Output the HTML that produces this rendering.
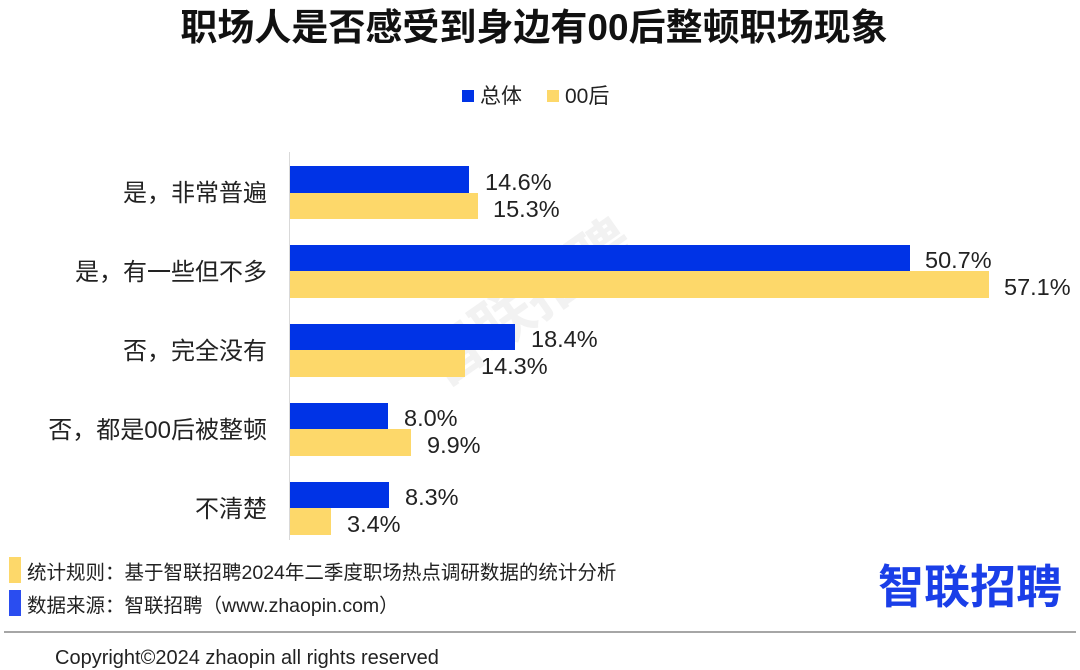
<!DOCTYPE html>
<html><head><meta charset="utf-8"><style>
body{margin:0;background:#fff;}
svg{display:block;font-family:"Liberation Sans","Noto Sans CJK SC",sans-serif;}
</style></head><body>
<svg width="1080" height="670" viewBox="0 0 1080 670" xmlns="http://www.w3.org/2000/svg">
<text x="534" y="40" text-anchor="middle" font-size="37" font-weight="bold" fill="#111">职场人是否感受到身边有00后整顿职场现象</text>
<rect x="462" y="90" width="12" height="12" fill="#0033e6"/>
<text x="480" y="103" font-size="21" fill="#222">总体</text>
<rect x="547" y="90" width="12" height="12" fill="#fdd86a"/>
<text x="565" y="103" font-size="21" fill="#222">00后</text>
<text x="540" y="320" text-anchor="middle" font-size="60" font-weight="bold" fill="#f2f2f2" transform="rotate(-35 540 320)">智联招聘</text>
<line x1="289.5" y1="152" x2="289.5" y2="540" stroke="#d9d9d9" stroke-width="1"/>
<g font-size="23.5" fill="#222">
<rect x="290" y="166" width="179" height="27" fill="#0033e6"/><rect x="290" y="193" width="188" height="26" fill="#fdd86a"/>
<text x="485" y="190">14.6%</text><text x="493" y="217">15.3%</text>
<rect x="290" y="245" width="620" height="26" fill="#0033e6"/><rect x="290" y="271" width="699" height="27" fill="#fdd86a"/>
<text x="925" y="268">50.7%</text><text x="1004" y="295">57.1%</text>
<rect x="290" y="324" width="225" height="26" fill="#0033e6"/><rect x="290" y="350" width="175" height="27" fill="#fdd86a"/>
<text x="531" y="347">18.4%</text><text x="481" y="374">14.3%</text>
<rect x="290" y="403" width="98" height="26" fill="#0033e6"/><rect x="290" y="429" width="121" height="27" fill="#fdd86a"/>
<text x="404" y="426">8.0%</text><text x="427" y="453">9.9%</text>
<rect x="290" y="482" width="99" height="26" fill="#0033e6"/><rect x="290" y="508" width="41" height="27" fill="#fdd86a"/>
<text x="405" y="505">8.3%</text><text x="347" y="532">3.4%</text>
</g>
<g font-size="24" fill="#222" text-anchor="end">
<text x="267" y="201">是，非常普遍</text>
<text x="267" y="280">是，有一些但不多</text>
<text x="267" y="359">否，完全没有</text>
<text x="267" y="438">否，都是00后被整顿</text>
<text x="267" y="517">不清楚</text>
</g>
<rect x="9" y="557" width="12" height="26" fill="#fdd86a"/>
<text x="27" y="579" font-size="19.5" fill="#222">统计规则：基于智联招聘2024年二季度职场热点调研数据的统计分析</text>
<rect x="9" y="590" width="12" height="26" fill="#2a4df0"/>
<text x="27" y="612" font-size="19.5" fill="#222">数据来源：智联招聘（www.zhaopin.com）</text>
<text x="1062" y="603" text-anchor="end" font-size="46" font-weight="bold" fill="#1a3ee8">智联招聘</text>
<line x1="4" y1="632" x2="1076" y2="632" stroke="#888" stroke-width="1.5"/>
<text x="55" y="664" font-size="20" fill="#222">Copyright©2024 zhaopin all rights reserved</text>
</svg>
</body></html>
